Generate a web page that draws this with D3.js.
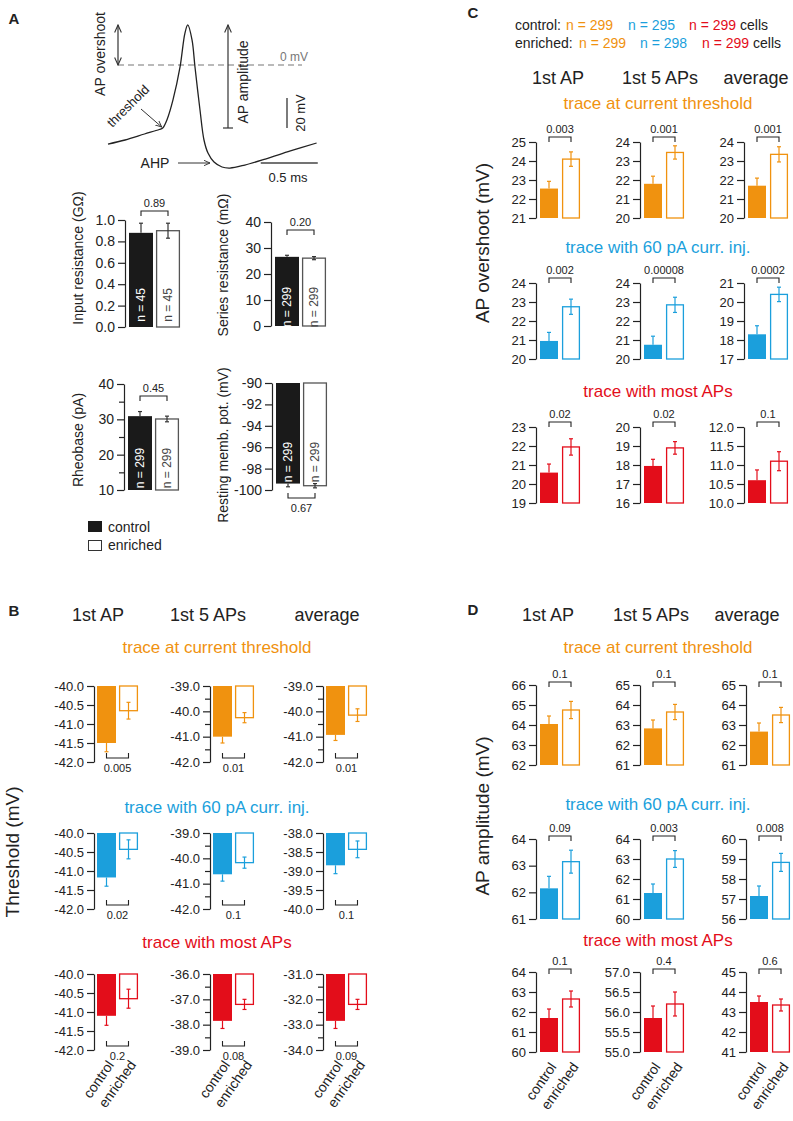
<!DOCTYPE html>
<html>
<head>
<meta charset="utf-8">
<script src="https://cdn.jsdelivr.net/npm/d3@7"></script>
<style>
body { margin: 0; background: #fff; }
text { font-family: "Liberation Sans", Arial, sans-serif; }
</style>
</head>
<body>
<script>
// colours
var orange = "#f0920f", blue = "#1b9fdc", red = "#e30d1a", ink = "#222";

// ---- panel A: example AP trace (ms, mV) ----
var traceTime = [0, 0.15, 0.32, 0.45, 0.48, 0.52, 0.57, 0.632, 0.675, 0.70, 0.737, 0.763, 0.807, 0.842, 0.877, 0.93, 1.0, 1.07, 1.2, 1.38, 1.6, 1.83];
var traceVolt = [-52.7, -50, -46, -43, -42, -36, -23.3, -1.3, 21.3, 26.7, 16.7, -1.3, -30, -50, -58.7, -64.7, -68, -68.7, -66.7, -62.7, -57.3, -52];

// ---- panel A: passive properties ----
var groups = ["control", "enriched"];
var inputRes = [0.88, 0.90], inputResErr = [0.09, 0.07], inputResN = [45, 45];
var seriesRes = [26.6, 26.1], seriesResErr = [0.6, 0.6], seriesResN = [299, 299];
var rheobase = [30.9, 30.1], rheobaseErr = [1.3, 0.8], rheobaseN = [299, 299];
var restPot = [-99.4, -99.6], restPotErr = [0.3, 0.2], restPotN = [299, 299];
var passiveP = ["0.89", "0.20", "0.45", "0.67"];

// ---- shared labels ----
var colTitles = ["1st AP", "1st 5 APs", "average"];
var rowTitlesBD = ["trace at current threshold", "trace with 60 pA curr.  inj.", "trace with most APs"];
var rowTitlesC = ["trace at current threshold", "trace with 60 pA curr. inj.", "trace with most APs"];
var cellsControl = [299, 295, 299], cellsEnriched = [299, 298, 299];

// ---- panel B: threshold (mV) rows x columns ----
var thrControl = [[-41.5, -41.0, -40.93], [-41.17, -40.63, -38.85], [-41.1, -37.85, -32.85]];
var thrControlErr = [[0.23, 0.25, 0.22], [0.23, 0.27, 0.22], [0.25, 0.3, 0.3]];
var thrEnriched = [[-40.65, -40.25, -40.15], [-40.43, -40.17, -38.43], [-40.65, -37.2, -32.2]];
var thrEnrichedErr = [[0.22, 0.2, 0.25], [0.25, 0.22, 0.22], [0.25, 0.2, 0.2]];
var thrDomain = [[[-42, -40], [-42, -39], [-42, -39]], [[-42, -40], [-42, -39], [-40, -38]], [[-42, -40], [-39, -36], [-34, -31]]];
var thrStep = [[0.5, 1, 1], [0.5, 1, 0.5], [0.5, 1, 1]];
var thrP = [["0.005", "0.01", "0.01"], ["0.02", "0.1", "0.1"], ["0.2", "0.08", "0.09"]];

// ---- panel C: AP overshoot (mV) ----
var ovsControl = [[22.55, 21.8, 21.7], [20.95, 20.75, 18.3], [20.6, 17.95, 10.6]];
var ovsControlErr = [[0.38, 0.4, 0.4], [0.45, 0.45, 0.45], [0.45, 0.35, 0.27]];
var ovsEnriched = [[24.1, 23.45, 23.35], [22.75, 22.85, 20.4], [21.95, 18.9, 11.1]];
var ovsEnrichedErr = [[0.38, 0.35, 0.4], [0.4, 0.4, 0.38], [0.43, 0.33, 0.25]];
var ovsDomain = [[[21, 25], [20, 24], [20, 24]], [[20, 24], [20, 24], [17, 21]], [[19, 23], [16, 20], [10, 12]]];
var ovsStep = [[1, 1, 1], [1, 1, 1], [1, 1, 0.5]];
var ovsP = [["0.003", "0.001", "0.001"], ["0.002", "0.00008", "0.0002"], ["0.02", "0.02", "0.1"]];

// ---- panel D: AP amplitude (mV) ----
var ampControl = [[64.05, 62.83, 62.67], [62.15, 61.3, 57.15], [61.7, 55.85, 43.5]];
var ampControlErr = [[0.4, 0.42, 0.43], [0.45, 0.45, 0.5], [0.45, 0.3, 0.3]];
var ampEnriched = [[64.75, 63.65, 63.5], [63.15, 63.0, 58.83], [62.65, 56.2, 43.35]];
var ampEnrichedErr = [[0.43, 0.38, 0.38], [0.43, 0.42, 0.45], [0.4, 0.3, 0.3]];
var ampDomain = [[[62, 66], [61, 65], [61, 65]], [[61, 64], [60, 64], [56, 60]], [[60, 64], [55, 57], [41, 45]]];
var ampStep = [[1, 1, 1], [1, 1, 1], [1, 0.5, 1]];
var ampP = [["0.1", "0.1", "0.1"], ["0.09", "0.003", "0.008"], ["0.1", "0.4", "0.6"]];

var rowColors = [orange, blue, red];

var svg = d3.select("body").append("svg").attr("width", 793).attr("height", 1121);

function label(x, y, s, o) {
  o = o || {};
  var t = svg.append("text").attr("x", x).attr("y", y).text(s)
    .attr("font-size", o.fs || 14).attr("fill", o.fill || ink)
    .attr("text-anchor", o.anchor || "middle").attr("dominant-baseline", "central");
  if (o.rot) t.attr("transform", "rotate(" + o.rot + "," + x + "," + y + ")");
  if (o.bold) t.attr("font-weight", "bold");
  return t;
}

// generic two-bar chart
function barChart(o) {
  var g = svg.append("g");
  var y = d3.scaleLinear().domain(o.domain).range([o.top + o.h, o.top]);
  var x = d3.scaleBand().domain(groups)
    .range([o.ax + o.start, o.ax + o.start + 2 * o.bw + o.gap])
    .paddingInner(o.gap / (o.bw + o.gap)).paddingOuter(0);
  var base = o.hang ? o.domain[1] : o.domain[0];

  groups.forEach(function(gr, i) {
    var v = o.vals[i], e = o.errs[i];
    var filled = i === 0;
    var x0 = x(gr), cx = x0 + x.bandwidth() / 2;
    g.append("rect")
      .attr("x", x0 + (filled ? 0 : 0.6)).attr("width", x.bandwidth() - (filled ? 0 : 1.2))
      .attr("y", Math.min(y(v), y(base))).attr("height", Math.abs(y(v) - y(base)))
      .attr("fill", filled ? o.color : "#fff")
      .attr("stroke", filled ? "none" : (o.outline || o.color)).attr("stroke-width", 1.3);
    var outward = o.hang ? v - e : v + e;
    var ends = filled ? [v, outward] : [v - e, v + e];
    var ec = o.errColor || o.color;
    g.append("line").attr("x1", cx).attr("x2", cx)
      .attr("y1", y(ends[0])).attr("y2", y(ends[1]))
      .attr("stroke", ec).attr("stroke-width", 1.2);
    (filled ? [outward] : ends).forEach(function(d) {
      g.append("line").attr("x1", cx - 2).attr("x2", cx + 2)
        .attr("y1", y(d)).attr("y2", y(d)).attr("stroke", ec).attr("stroke-width", 1.2);
    });
    if (o.n) {
      g.append("text").attr("x", cx).attr("y", o.nY)
        .attr("transform", "rotate(-90," + cx + "," + o.nY + ")")
        .attr("text-anchor", "middle").attr("dominant-baseline", "central")
        .attr("font-size", 12).attr("fill", filled ? "#fff" : "#444")
        .text("n = " + o.n[i]);
    }
  });

  var fmt = o.fmt || function(d) { return o.step < 1 ? d.toFixed(1) : String(d); };
  var ticks = d3.range(o.domain[0], o.domain[1] + o.step / 2, o.step);
  var ga = g.append("g").attr("transform", "translate(" + o.ax + ",0)")
    .call(d3.axisLeft(y).tickValues(ticks).tickFormat(fmt).tickSize(7).tickPadding(3).tickSizeOuter(0));
  ga.attr("font-size", o.fs || 13).attr("font-family", '"Liberation Sans", Arial, sans-serif');
  ga.selectAll("path,line").attr("stroke", ink).attr("stroke-width", 1.2);
  ga.selectAll("text").attr("fill", ink);
  if (o.minor) {
    var gm = g.append("g").attr("transform", "translate(" + o.ax + ",0)")
      .call(d3.axisLeft(y).tickValues(o.minor).tickFormat("").tickSize(5).tickSizeOuter(0));
    gm.select(".domain").remove();
    gm.selectAll("line").attr("stroke", ink).attr("stroke-width", 1.2);
  }

  if (o.p) {
    var xa = x(groups[0]) + x.bandwidth() / 2, xb = x(groups[1]) + x.bandwidth() / 2;
    var yb = o.top + o.pAt, leg = o.pBelow ? -5 : 5;
    g.append("path").attr("d", "M" + xa + "," + (yb + leg) + "V" + yb + "H" + xb + "V" + (yb + leg))
      .attr("fill", "none").attr("stroke", ink).attr("stroke-width", 1.1);
    g.append("text").attr("x", (xa + xb) / 2).attr("y", o.pBelow ? yb + 10 : yb - 8)
      .attr("text-anchor", "middle").attr("dominant-baseline", "central")
      .attr("font-size", 11).attr("fill", ink).text(o.p);
  }
  if (o.xlabels) {
    groups.forEach(function(gr) {
      var cx = x(gr) + x.bandwidth() / 2 + 4, ly = o.top + o.h + 12;
      g.append("text").attr("x", cx).attr("y", ly)
        .attr("transform", "rotate(-55," + cx + "," + ly + ")")
        .attr("text-anchor", "end").attr("dominant-baseline", "central")
        .attr("font-size", 14).attr("fill", ink).text(gr);
    });
  }
  return y;
}

// ================= panel A =================
label(14, 18, "A", { fs: 15, bold: true });

var xT = d3.scaleLinear().domain([0, 1]).range([108, 222]);
var yT = d3.scaleLinear().domain([0, 20]).range([65, 35]);

var defs = svg.append("defs");
defs.append("marker").attr("id", "ah").attr("viewBox", "0 0 10 10").attr("refX", 9).attr("refY", 5)
  .attr("markerWidth", 7).attr("markerHeight", 7).attr("orient", "auto-start-reverse")
  .append("path").attr("d", "M0,1 L9,5 L0,9").attr("fill", "none").attr("stroke", "#333").attr("stroke-width", 1.3);

// 0 mV line
svg.append("line").attr("x1", 118).attr("x2", 302).attr("y1", yT(0)).attr("y2", yT(0))
  .attr("stroke", "#777").attr("stroke-width", 1.2).attr("stroke-dasharray", "6,4");
label(294, yT(0) - 8, "0 mV", { fs: 12, fill: "#777" });

svg.append("path")
  .datum(d3.zip(traceTime, traceVolt))
  .attr("d", d3.line().x(function(d) { return xT(d[0]); }).y(function(d) { return yT(d[1]); }).curve(d3.curveCatmullRom))
  .attr("fill", "none").attr("stroke", "#222").attr("stroke-width", 1.3);

var peakV = d3.max(traceVolt), thrV = -42;
// overshoot arrow
svg.append("line").attr("x1", 118).attr("x2", 118).attr("y1", yT(peakV)).attr("y2", yT(0))
  .attr("stroke", "#333").attr("stroke-width", 1.2)
  .attr("marker-start", "url(#ah)").attr("marker-end", "url(#ah)");
label(100, 54, "AP overshoot", { rot: -90, fs: 14 });
// amplitude arrow
svg.append("line").attr("x1", 228).attr("x2", 228).attr("y1", yT(thrV)).attr("y2", yT(peakV))
  .attr("stroke", "#333").attr("stroke-width", 1.2).attr("marker-end", "url(#ah)");
svg.append("line").attr("x1", 223).attr("x2", 233).attr("y1", yT(thrV)).attr("y2", yT(thrV))
  .attr("stroke", "#333").attr("stroke-width", 1.2);
label(243, 82, "AP amplitude", { rot: -90, fs: 14 });
// threshold annotation
label(128, 106, "threshold", { rot: -45, fs: 13 });
svg.append("line").attr("x1", 141).attr("y1", 109).attr("x2", xT(0.48) - 1).attr("y2", yT(thrV) - 1)
  .attr("stroke", "#333").attr("stroke-width", 1).attr("marker-end", "url(#ah)");
// AHP
label(155, 163, "AHP", { fs: 14 });
svg.append("line").attr("x1", 178).attr("x2", 210).attr("y1", 163).attr("y2", 163)
  .attr("stroke", "#333").attr("stroke-width", 1).attr("marker-end", "url(#ah)");
// scale bars
svg.append("line").attr("x1", 287).attr("x2", 287).attr("y1", yT(-22)).attr("y2", yT(-42))
  .attr("stroke", "#444").attr("stroke-width", 1.4);
label(300, 113, "20 mV", { rot: -90, fs: 13 });
svg.append("line").attr("x1", xT(1.34)).attr("x2", xT(1.84)).attr("y1", 163).attr("y2", 163)
  .attr("stroke", "#444").attr("stroke-width", 1.4);
label(288, 177, "0.5 ms", { fs: 13 });

// passive bar charts
var aBar = { bw: 24, gap: 3, start: 4, color: "#1a1a1a", outline: "#555", errColor: "#333", fs: 14 };
barChart(Object.assign({}, aBar, { ax: 125, top: 220, h: 107, domain: [0, 1], step: 0.2, vals: inputRes, errs: inputResErr, n: inputResN, nY: 305, p: passiveP[0], pAt: -9 }));
barChart(Object.assign({}, aBar, { ax: 271, top: 222, h: 104, domain: [0, 40], step: 10, vals: seriesRes, errs: seriesResErr, n: seriesResN, nY: 307, p: passiveP[1], pAt: 8 }));
barChart(Object.assign({}, aBar, { ax: 124, top: 384, h: 106, domain: [10, 40], step: 10, minor: [15, 25, 35], vals: rheobase, errs: rheobaseErr, n: rheobaseN, nY: 468, p: passiveP[2], pAt: 12 }));
barChart(Object.assign({}, aBar, { ax: 272, top: 383, h: 107, domain: [-100, -90], step: 2, hang: true, vals: restPot, errs: restPotErr, n: restPotN, nY: 462, p: passiveP[3], pAt: 115, pBelow: true }));
label(78, 258, "Input resistance (GΩ)", { rot: -90, fs: 14 });
label(223, 265, "Series resistance (mΩ)", { rot: -90, fs: 14 });
label(78, 440, "Rheobase (pA)", { rot: -90, fs: 14 });
label(223, 445, "Resting memb. pot. (mV)", { rot: -90, fs: 14 });

// legend
svg.append("rect").attr("x", 88).attr("y", 521).attr("width", 14).attr("height", 11).attr("fill", "#1a1a1a");
svg.append("rect").attr("x", 88.5).attr("y", 540.5).attr("width", 13).attr("height", 10).attr("fill", "#fff").attr("stroke", "#333");
label(108, 527, "control", { anchor: "start", fs: 14 });
label(108, 545, "enriched", { anchor: "start", fs: 14 });

// ================= grids B, C, D =================
function grid(o) {
  o.colX.forEach(function(cx, j) { label(cx, o.colY, colTitles[j], { fs: 18 }); });
  o.rowTop.forEach(function(top, r) {
    label(o.titleX, o.titleY[r], o.rowTitles[r], { fs: 17, fill: rowColors[r] });
    o.axX.forEach(function(ax, c) {
      barChart({
        ax: ax, top: top, h: o.h, bw: o.bw, gap: o.gap, start: o.start,
        domain: o.domain[r][c], step: o.step[r][c],
        minor: o.step[r][c] === 1 && o.minorHalf ? d3.range(o.domain[r][c][0] + 0.5, o.domain[r][c][1], 1) : null,
        fmt: o.fixed ? function(d) { return d.toFixed(1); } : null,
        vals: [o.ctrl[r][c], o.enr[r][c]], errs: [o.ctrlErr[r][c], o.enrErr[r][c]],
        color: rowColors[r], hang: o.hang, fs: 13,
        p: o.p[r][c], pAt: o.pAt, pBelow: o.pBelow,
        xlabels: o.xlabels && r === 2
      });
    });
  });
}

// B
label(14, 610, "B", { fs: 15, bold: true });
grid({ colX: [98, 208, 327], colY: 615, titleX: 217, titleY: [647, 807, 942], rowTitles: rowTitlesBD,
  rowTop: [686, 833, 974], h: 76, axX: [94, 210, 323], bw: 19, gap: 3, start: 3,
  domain: thrDomain, step: thrStep, minorHalf: true, fixed: true, hang: true,
  ctrl: thrControl, ctrlErr: thrControlErr, enr: thrEnriched, enrErr: thrEnrichedErr,
  p: thrP, pAt: 72, pBelow: true, xlabels: true });
label(12, 852, "Threshold (mV)", { rot: -90, fs: 19 });

// C
label(473, 12, "C", { fs: 15, bold: true });
[["control:", cellsControl, [566, 628, 689], 740, 25], ["enriched:", cellsEnriched, [579, 640, 702], 753, 43]].forEach(function(row) {
  label(515, row[4], row[0], { anchor: "start", fs: 14 });
  row[1].forEach(function(n, k) { label(row[2][k], row[4], "n = " + n, { anchor: "start", fs: 14, fill: rowColors[k] }); });
  label(row[3], row[4], "cells", { anchor: "start", fs: 14 });
});
grid({ colX: [558, 660, 756], colY: 78, titleX: 658, titleY: [103, 247, 391], rowTitles: rowTitlesC,
  rowTop: [142, 283, 427], h: 76, axX: [536, 640, 744], bw: 18, gap: 4, start: 4,
  domain: ovsDomain, step: ovsStep, hang: false,
  ctrl: ovsControl, ctrlErr: ovsControlErr, enr: ovsEnriched, enrErr: ovsEnrichedErr,
  p: ovsP, pAt: -5, xlabels: false });
label(482, 243, "AP overshoot (mV)", { rot: -90, fs: 19 });

// D
label(473, 609, "D", { fs: 15, bold: true });
grid({ colX: [548, 651, 747], colY: 615, titleX: 658, titleY: [647, 804, 940], rowTitles: rowTitlesBD,
  rowTop: [685, 839, 972], h: 80, axX: [536, 640, 746], bw: 18, gap: 4, start: 4,
  domain: ampDomain, step: ampStep, hang: false,
  ctrl: ampControl, ctrlErr: ampControlErr, enr: ampEnriched, enrErr: ampEnrichedErr,
  p: ampP, pAt: -3, xlabels: true });
label(482, 816, "AP amplitude (mV)", { rot: -90, fs: 19 });
</script>
</body>
</html>
